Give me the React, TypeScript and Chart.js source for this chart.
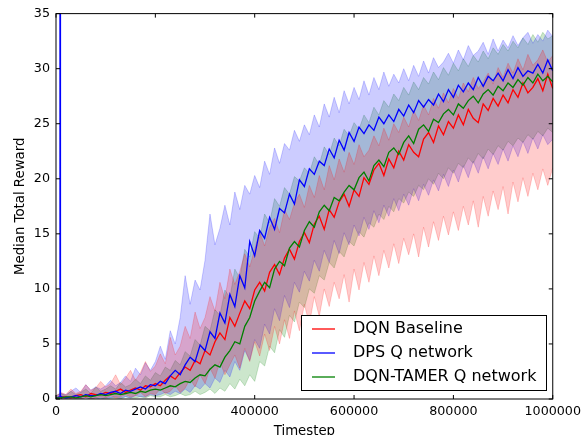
import { useEffect, useRef } from "react";
import { Chart, registerables } from "chart.js";

Chart.register(...registerables);

const FONT = "'DejaVu Sans', 'Liberation Sans', sans-serif";

// sample grid (timesteps)
const STEP = 10000;
const timesteps: number[] = Array.from({ length: 101 }, (_, i) => i * STEP);

const seriesLabels = ["DQN Baseline", "DPS Q network", "DQN-TAMER Q network"];
const seriesColors = ["#ff0000", "#0000ff", "#008000"];
const bandColors = ["rgba(255,0,0,0.2)", "rgba(0,0,255,0.2)", "rgba(0,128,0,0.2)"];

const xTicks = [0, 200000, 400000, 600000, 800000, 1000000];
const yTicks = [0, 5, 10, 15, 20, 25, 30, 35];

// DQN Baseline
const dqnMedian = [
  0.1, 0.2, 0.2, 0.1, 0.3, 0.4, 0.2, 0.5, 0.4, 0.4,
  0.6, 0.5, 0.7, 0.9, 0.6, 0.8, 1.0, 0.8, 1.2, 1.1,
  1.4, 1.2, 1.7, 2.1, 1.8, 2.4, 2.9, 2.6, 3.5, 3.2,
  4.4, 4.0, 5.2, 6.0, 5.4, 7.4, 6.6, 7.8, 8.9, 8.2,
  9.9, 10.6, 9.8, 11.5, 12.2, 11.3, 12.8, 13.6, 12.7, 14.3,
  15.1, 14.2, 15.9, 16.6, 15.4, 17.2, 16.5, 17.9, 18.6, 17.5,
  19.0, 18.4, 20.1, 19.5, 20.8, 21.4, 20.3, 21.8, 21.0, 22.5,
  21.7, 23.1, 22.4, 22.0, 23.6, 24.2, 23.3, 24.8, 24.0, 25.2,
  24.6, 25.8, 24.9, 26.3, 25.5, 25.1, 26.8, 26.2, 27.3, 26.6,
  27.6, 26.9, 28.1, 27.4, 28.7, 27.8, 28.3, 29.1, 28.0, 29.5,
  28.2,
];
const dqnUpper = [
  0.3, 0.6, 0.4, 0.9, 0.5, 0.7, 1.3, 0.8, 1.0, 1.6,
  1.1, 1.4, 2.2, 1.3, 1.9, 2.6, 1.7, 2.4, 3.4, 2.5,
  3.0, 4.1, 3.2, 5.6, 4.0, 4.8, 6.6, 5.5, 7.9, 6.4,
  7.4, 9.3, 8.0, 10.6, 9.1, 11.8, 10.4, 11.6, 13.2, 12.0,
  13.6, 15.2, 13.9, 15.6, 16.4, 15.1, 17.2, 16.3, 17.8, 18.6,
  17.4, 19.4, 18.3, 20.3, 19.0, 21.2, 19.9, 21.8, 20.6, 22.4,
  21.3, 23.1, 22.0, 22.6, 23.9, 23.0, 24.6, 23.5, 25.0, 24.2,
  25.6, 24.7, 26.2, 25.3, 26.7, 25.8, 27.3, 26.4, 27.8, 26.9,
  28.2, 27.3, 28.7, 27.9, 29.2, 28.2, 28.8, 29.6, 28.6, 30.1,
  29.2, 30.5, 29.6, 30.9, 29.9, 31.3, 30.3, 30.8, 31.7, 30.6,
  31.2,
];
const dqnLower = [
  0.0, 0.0, 0.1, 0.0, 0.1, 0.0, 0.2, 0.0, 0.1, 0.2,
  0.1, 0.3, 0.1, 0.2, 0.4, 0.2, 0.3, 0.6, 0.2, 0.5,
  0.4, 0.9, 0.5, 0.7, 1.2, 0.6, 1.0, 1.8, 1.1, 2.2,
  1.4, 2.8, 1.9, 3.4, 2.2, 3.1, 4.0, 2.8, 4.6, 3.4,
  5.2, 3.9, 5.9, 4.4, 6.6, 5.0, 7.2, 5.5, 8.0, 6.2,
  8.6, 6.8, 9.3, 7.5, 10.0, 8.4, 10.6, 9.1, 11.3, 8.8,
  11.8, 9.9, 12.4, 10.6, 13.0, 11.2, 13.5, 11.9, 14.1, 12.3,
  14.6, 13.1, 15.0, 12.9, 15.6, 13.8, 16.1, 14.4, 16.6, 14.9,
  17.0, 15.3, 17.5, 15.8, 18.0, 15.6, 18.4, 16.6, 18.9, 17.2,
  19.3, 16.8, 19.7, 17.9, 20.1, 18.4, 20.5, 19.0, 20.9, 19.4,
  21.0,
];

// DPS Q network
const dpsSpikeSteps = [7000, 8000, 9000];
const dpsSpikeValues = [0.2, 1000, 0.3];
const dpsMedian = [
  0.1, 0.2, 0.1, 0.2, 0.3, 0.2, 0.4, 0.3, 0.3, 0.5,
  0.4, 0.6, 0.7, 0.5, 0.8, 0.7, 0.9, 1.1, 0.9, 1.3,
  1.2, 1.6, 1.4, 2.1, 2.6, 2.2, 3.1, 3.8, 3.4, 4.9,
  4.4, 6.1, 5.5, 7.8, 6.9, 9.5, 8.4, 11.2, 10.1, 14.3,
  13.0, 15.3, 14.6, 16.5, 15.4, 17.3, 16.9, 18.6, 17.7, 19.9,
  19.3, 20.9, 20.4, 21.6, 21.2, 22.7, 21.9, 23.5, 22.6, 24.2,
  23.4, 24.7, 24.1, 24.9, 24.4, 25.6, 25.0, 25.8, 25.2, 26.3,
  25.7, 26.7, 26.0, 27.1, 26.5, 27.2, 26.7, 27.7, 27.0, 28.1,
  27.4, 28.5, 27.9, 28.7, 28.1, 29.2, 28.4, 29.3, 28.9, 29.6,
  28.9, 29.9, 29.1, 30.1, 29.3, 29.8, 29.6, 30.4, 29.6, 30.8,
  29.8,
];
const dpsUpper = [
  0.3, 0.5, 0.4, 0.7, 1.0, 0.6, 1.3, 0.8, 1.1, 0.9,
  1.2, 1.7, 1.2, 1.5, 2.1, 1.6, 2.8, 2.2, 3.3, 2.6,
  3.4, 4.8, 3.6, 6.2, 5.0, 7.4, 11.2, 8.6, 10.8, 9.9,
  12.6, 16.8, 14.0, 15.5, 17.6, 15.8, 18.8, 17.2, 19.4, 18.6,
  20.3, 19.2, 21.6, 20.4, 22.8, 21.4, 23.2, 22.6, 24.4, 23.4,
  24.9, 24.0, 25.8, 24.7, 26.8, 25.6, 27.4, 26.0, 28.0, 26.8,
  28.3, 27.2, 28.9, 27.6, 29.2, 28.1, 29.7, 28.4, 29.5, 28.7,
  30.0, 28.9, 30.3, 29.3, 30.7, 29.6, 31.0, 30.1, 30.6, 31.4,
  30.5, 31.7, 30.8, 32.1, 31.2, 31.6, 32.4, 31.3, 32.7, 31.6,
  32.6, 31.9, 33.0, 32.1, 32.8, 33.3, 32.3, 33.1, 32.5, 33.5,
  32.9,
];
const dpsLower = [
  0.0, 0.0, 0.0, 0.1, 0.0, 0.0, 0.1, 0.0, 0.1, 0.0,
  0.1, 0.1, 0.2, 0.1, 0.2, 0.1, 0.3, 0.2, 0.2, 0.4,
  0.3, 0.4, 0.6, 0.4, 0.7, 0.5, 0.9, 0.6, 1.2, 0.9,
  1.4, 1.0, 1.9, 1.5, 2.6, 2.0, 3.4, 2.6, 4.4, 3.5,
  5.4, 4.6, 6.8, 5.9, 8.2, 7.1, 9.4, 8.3, 10.6, 9.7,
  11.6, 10.7, 12.6, 11.6, 13.5, 12.4, 14.4, 13.2, 15.1, 14.0,
  15.8, 14.8, 16.5, 15.4, 17.1, 16.0, 17.6, 16.6, 18.2, 17.1,
  18.6, 17.6, 19.1, 18.0, 19.5, 18.5, 19.9, 18.9, 20.4, 19.3,
  20.8, 19.7, 21.2, 20.1, 21.6, 20.5, 22.0, 20.9, 22.3, 21.3,
  22.7, 21.6, 23.0, 22.0, 23.4, 22.3, 23.7, 22.7, 24.0, 23.1,
  23.6,
];

// DQN-TAMER Q network
const tamerMedian = [
  0.1, 0.1, 0.2, 0.2, 0.1, 0.2, 0.3, 0.2, 0.3, 0.4,
  0.3, 0.4, 0.5, 0.4, 0.5, 0.6, 0.5, 0.7, 0.6, 0.8,
  0.9, 0.8, 1.0, 1.2, 1.1, 1.4, 1.6, 1.5, 1.9, 2.2,
  2.1, 2.7, 3.1, 2.9, 3.8, 4.4, 5.2, 5.0, 6.6, 7.4,
  8.9, 9.8, 10.6, 10.1, 11.8, 12.5, 12.1, 13.7, 14.3, 13.8,
  15.3, 16.1, 15.6, 17.0, 17.6, 17.1, 18.3, 18.0, 18.8, 19.4,
  19.0, 20.1, 20.6, 19.8, 21.2, 21.7, 21.1, 22.4, 22.8, 22.2,
  23.3, 23.9, 23.2, 24.5, 24.9, 24.3, 25.4, 25.1, 25.9, 26.3,
  25.8, 26.8, 26.4, 27.1, 27.5, 26.9, 27.7, 28.1, 27.6, 28.4,
  28.0, 28.7, 28.3, 29.0, 28.5, 29.2, 28.7, 29.5, 28.9, 29.3,
  28.8,
];
const tamerUpper = [
  0.3, 0.5, 0.3, 0.7, 0.4, 0.6, 0.9, 0.5, 1.1, 0.7,
  0.9, 1.2, 0.9, 1.5, 1.1, 1.3, 1.8, 1.4, 2.1, 1.7,
  2.4, 2.1, 2.9, 2.6, 3.5, 3.1, 4.3, 3.9, 5.4, 4.9,
  6.6, 6.2, 8.1, 7.6, 9.9, 9.2, 11.8, 11.0, 13.6, 12.9,
  15.2, 14.6, 16.8, 16.0, 18.2, 17.5, 19.2, 18.6, 20.2, 19.8,
  21.0, 20.5, 22.0, 21.3, 22.9, 22.2, 23.7, 23.0, 24.5, 23.9,
  25.1, 24.5, 25.8, 25.1, 26.5, 25.8, 27.1, 26.5, 27.7, 27.1,
  28.3, 27.6, 28.8, 28.1, 29.2, 28.6, 29.7, 29.0, 30.1, 29.4,
  30.5, 29.8, 30.9, 30.2, 31.2, 30.6, 31.6, 30.9, 31.9, 31.3,
  32.2, 31.6, 32.5, 31.9, 32.8, 32.2, 33.1, 32.4, 33.3, 32.7,
  33.0,
];
const tamerLower = [
  0.0, 0.1, 0.0, 0.0, 0.1, 0.0, 0.1, 0.0, 0.0, 0.1,
  0.0, 0.1, 0.1, 0.0, 0.2, 0.1, 0.1, 0.2, 0.1, 0.3,
  0.2, 0.2, 0.4, 0.2, 0.3, 0.5, 0.3, 0.4, 0.7, 0.4,
  0.6, 0.9, 0.5, 1.0, 0.7, 1.4, 0.9, 1.8, 1.2, 2.2,
  1.6, 3.4, 3.0, 4.8, 4.2, 6.3, 5.6, 7.6, 7.0, 8.8,
  8.3, 10.0, 9.6, 11.2, 10.8, 12.4, 11.9, 13.4, 12.9, 14.3,
  13.9, 15.2, 14.7, 16.0, 15.6, 16.8, 16.3, 17.5, 17.0, 18.2,
  17.8, 18.8, 18.4, 19.4, 19.0, 20.0, 19.5, 20.5, 20.0, 21.0,
  20.5, 21.4, 21.0, 21.9, 21.4, 22.3, 21.8, 22.7, 22.2, 23.0,
  22.6, 23.4, 23.0, 23.7, 23.3, 24.0, 23.6, 24.3, 23.9, 24.6,
  24.2,
];

const toXY = (xs: number[], ys: number[]) => xs.map((x, i) => ({ x, y: ys[i] }));

const dpsMedianPoints = [
  { x: timesteps[0], y: dpsMedian[0] },
  ...toXY(dpsSpikeSteps, dpsSpikeValues),
  ...toXY(timesteps.slice(1), dpsMedian.slice(1)),
];

const frameTicksPlugin = {
  id: "frameTicks",
  afterDatasetsDraw(chart: any) {
    const { ctx, chartArea: a, scales } = chart;
    ctx.save();
    ctx.strokeStyle = "#000";
    ctx.lineWidth = 1;
    const tl = 4;
    ctx.beginPath();
    for (const v of xTicks) {
      const px = scales.x.getPixelForValue(v);
      ctx.moveTo(px, a.bottom);
      ctx.lineTo(px, a.bottom - tl);
      ctx.moveTo(px, a.top);
      ctx.lineTo(px, a.top + tl);
    }
    for (const v of yTicks) {
      const py = scales.y.getPixelForValue(v);
      ctx.moveTo(a.left, py);
      ctx.lineTo(a.left + tl, py);
      ctx.moveTo(a.right, py);
      ctx.lineTo(a.right - tl, py);
    }
    ctx.stroke();
    ctx.strokeRect(a.left, a.top, a.right - a.left, a.bottom - a.top);
    ctx.restore();
  },
};

const legendPlugin = {
  id: "boxLegend",
  afterDraw(chart: any) {
    const { ctx } = chart;
    const bx = 301.5, by = 315.5, bw = 245, bh = 75;
    ctx.save();
    ctx.fillStyle = "#ffffff";
    ctx.fillRect(bx, by, bw, bh);
    ctx.strokeStyle = "#000";
    ctx.lineWidth = 1;
    ctx.strokeRect(bx, by, bw, bh);
    ctx.font = `16px ${FONT}`;
    ctx.textBaseline = "middle";
    ctx.textAlign = "left";
    seriesLabels.forEach((label, i) => {
      const y = 329 + i * 24;
      ctx.strokeStyle = seriesColors[i];
      ctx.lineWidth = 1.3;
      ctx.beginPath();
      ctx.moveTo(312, y);
      ctx.lineTo(335, y);
      ctx.stroke();
      ctx.fillStyle = "#000";
      ctx.fillText(label, 353, y);
    });
    ctx.restore();
  },
};

export default function App() {
  const canvasRef = useRef<HTMLCanvasElement | null>(null);

  useEffect(() => {
    if (!canvasRef.current) return;
    const lineDs = (label: string, data: any[], color: string) => ({
      label,
      data,
      borderColor: color,
      backgroundColor: color,
      borderWidth: 1.3,
      pointRadius: 0,
      tension: 0,
      fill: false,
    });
    const bandDs = (label: string, ys: number[], color: string, fill: any) => ({
      label,
      data: toXY(timesteps, ys),
      borderColor: color,
      backgroundColor: color,
      borderWidth: 1,
      pointRadius: 0,
      tension: 0,
      fill,
    });

    const chart = new Chart(canvasRef.current, {
      type: "line",
      data: {
        datasets: [
          lineDs(seriesLabels[2], toXY(timesteps, tamerMedian), seriesColors[2]),
          lineDs(seriesLabels[1], dpsMedianPoints, seriesColors[1]),
          lineDs(seriesLabels[0], toXY(timesteps, dqnMedian), seriesColors[0]),
          bandDs("dqn upper", dqnUpper, bandColors[0], "+1"),
          bandDs("dqn lower", dqnLower, bandColors[0], false),
          bandDs("dps upper", dpsUpper, bandColors[1], "+1"),
          bandDs("dps lower", dpsLower, bandColors[1], false),
          bandDs("tamer upper", tamerUpper, bandColors[2], "+1"),
          bandDs("tamer lower", tamerLower, bandColors[2], false),
        ] as any,
      },
      options: {
        animation: false,
        responsive: false,
        maintainAspectRatio: false,
        events: [],
        layout: { padding: { top: 13, right: 31, left: 0, bottom: 0 } },
        plugins: {
          legend: { display: false },
          tooltip: { enabled: false },
          title: { display: false },
        },
        scales: {
          x: {
            type: "linear",
            min: 0,
            max: 1000000,
            afterFit: (s: any) => {
              s.height = 36;
            },
            afterBuildTicks: (s: any) => {
              s.ticks = xTicks.map((v) => ({ value: v }));
            },
            grid: { display: false, drawTicks: false },
            border: { display: false },
            ticks: {
              color: "#000",
              font: { family: FONT, size: 12.7 },
              padding: 5,
              maxRotation: 0,
              autoSkip: false,
              callback: (v: any) => String(v),
            },
            title: {
              display: true,
              text: "Timestep",
              color: "#000",
              font: { family: FONT, size: 13.3 },
              padding: { top: 0, bottom: -4.5 },
            },
          },
          y: {
            type: "linear",
            min: 0,
            max: 35,
            afterFit: (s: any) => {
              s.width = 56;
            },
            afterBuildTicks: (s: any) => {
              s.ticks = yTicks.map((v) => ({ value: v }));
            },
            grid: { display: false, drawTicks: false },
            border: { display: false },
            ticks: {
              color: "#000",
              font: { family: FONT, size: 12.7 },
              padding: 6,
              callback: (v: any) => String(v),
            },
            title: {
              display: true,
              text: "Median Total Reward",
              color: "#000",
              font: { family: FONT, size: 13.3 },
              padding: { top: 12.4, bottom: 0 },
            },
          },
        },
      } as any,
      plugins: [frameTicksPlugin, legendPlugin],
    });
    return () => chart.destroy();
  }, []);

  return (
    <div style={{ position: "fixed", left: 0, top: 0, width: 586, height: 435, background: "#fff" }}>
      <canvas ref={canvasRef} width={586} height={435} style={{ display: "block", width: 586, height: 435 }} />
    </div>
  );
}
